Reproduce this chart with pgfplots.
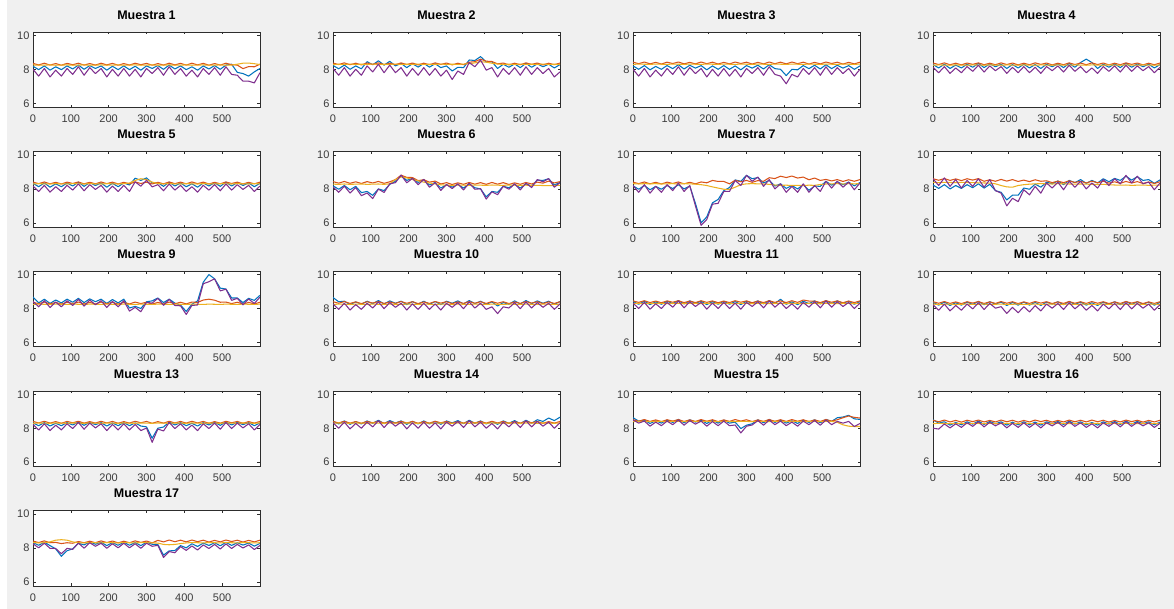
\documentclass[border=0pt]{standalone}
\usepackage{fontspec}
\setmainfont{Liberation Sans}
\usepackage{pgfplots}
\usepackage{pgfplotstable}
\pgfplotsset{compat=1.18}
\definecolor{mBlue}{RGB}{0,114,189}
\definecolor{mOrange}{RGB}{217,83,25}
\definecolor{mYellow}{RGB}{237,177,32}
\definecolor{mPurple}{RGB}{126,47,142}
\definecolor{figgray}{RGB}{240,240,240}
\definecolor{axgray}{RGB}{45,45,45}
\definecolor{labgray}{RGB}{60,60,60}
\pgfplotsset{sub/.style={width=227pt,height=75.5pt,scale only axis,anchor=south west,
 xmin=0,xmax=600,ymin=5.75,ymax=10.2,
 xtick={0,100,200,300,400,500}, ytick={6,8,10},
 tick align=inside, major tick length=2.5pt,
 tick style={color=axgray,line width=0.45pt},
 axis line style={axgray,line width=0.45pt},
 /pgf/number format/assume math mode=true,
 ticklabel style={font=\fontsize{11}{12}\selectfont,text=labgray},
 xticklabel style={yshift=-4pt},
 title style={font=\bfseries\fontsize{12.5}{13}\selectfont,at={(0.5,1)},anchor=base,yshift=6.7pt},
 axis background/.style={fill=white},
 every axis plot/.append style={line width=1.05pt,no markers,line join=round}}}
\newcommand{\subp}[4]{%
\begin{axis}[sub,at={(#1pt,#2pt)},title={#3}]
\addplot[mBlue] table[x index=0,y index=1]{#4};
\addplot[mOrange] table[x index=0,y index=2]{#4};
\addplot[mYellow] table[x index=0,y index=3]{#4};
\addplot[mPurple] table[x index=0,y index=4]{#4};
\end{axis}}
\pgfplotstableread{
0 8.18 8.35 8.26 8.0
15 7.98 8.26 8.24 7.6
30 8.2 8.36 8.25 8.05
45 7.95 8.25 8.26 7.55
60 8.15 8.34 8.24 7.95
75 7.98 8.24 8.25 7.6
90 8.2 8.35 8.26 8.05
105 8.02 8.27 8.24 7.7
120 8.25 8.36 8.25 8.15
135 8.0 8.25 8.26 7.65
150 8.22 8.34 8.24 8.1
165 8.05 8.25 8.25 7.75
180 8.2 8.36 8.26 8.05
195 7.95 8.26 8.24 7.55
210 8.18 8.35 8.25 8.0
225 7.98 8.24 8.26 7.6
240 8.2 8.34 8.24 8.05
255 7.98 8.25 8.25 7.6
270 8.18 8.36 8.26 8.0
285 7.95 8.27 8.24 7.55
300 8.2 8.35 8.25 8.05
315 8.05 8.24 8.26 7.75
330 8.22 8.34 8.24 8.1
345 8.0 8.25 8.25 7.65
360 8.25 8.36 8.26 8.15
375 8.02 8.26 8.24 7.7
390 8.2 8.35 8.25 8.05
405 7.98 8.25 8.26 7.6
420 8.15 8.36 8.24 7.95
435 7.95 8.26 8.25 7.55
450 8.2 8.35 8.26 8.05
465 8.02 8.24 8.24 7.7
480 8.22 8.34 8.25 8.1
495 8.0 8.25 8.26 7.65
510 8.25 8.36 8.24 8.15
525 8.3 8.27 8.25 7.7
540 7.82 8.25 8.3 7.65
555 7.75 8.04 8.36 7.3
570 7.6 8.16 8.37 7.3
585 7.85 8.15 8.33 7.2
600 8.05 8.3 8.28 7.8
}\tA
\pgfplotstableread{
0 8.23 8.37 8.28 8.05
15 8.03 8.28 8.3 7.65
30 8.25 8.38 8.29 8.1
45 8.0 8.27 8.31 7.6
60 8.2 8.36 8.29 8.0
75 8.03 8.26 8.3 7.65
90 8.45 8.37 8.29 8.2
105 8.27 8.29 8.31 7.85
120 8.5 8.38 8.29 8.3
135 8.25 8.27 8.3 7.8
150 8.47 8.36 8.29 8.25
165 8.2 8.27 8.31 7.8
180 8.35 8.38 8.29 8.1
195 8.1 8.28 8.3 7.6
210 8.33 8.37 8.29 8.05
225 8.13 8.26 8.31 7.65
240 8.35 8.36 8.29 8.1
255 8.13 8.27 8.3 7.65
270 8.33 8.38 8.29 8.05
285 8.1 8.29 8.31 7.6
300 8.2 8.37 8.29 7.95
315 7.9 8.26 8.3 7.4
330 8.12 8.36 8.29 7.9
345 8.1 8.27 8.31 7.7
360 8.55 8.42 8.33 8.4
375 8.52 8.45 8.38 8.15
390 8.75 8.6 8.45 8.55
405 8.43 8.48 8.42 7.95
420 8.45 8.46 8.36 8.1
435 8.05 8.32 8.31 7.55
450 8.3 8.37 8.29 8.05
465 8.12 8.26 8.3 7.7
480 8.32 8.36 8.29 8.1
495 8.1 8.27 8.31 7.65
510 8.35 8.38 8.29 8.15
525 8.12 8.29 8.3 7.7
540 8.32 8.37 8.29 8.1
555 8.15 8.26 8.31 7.75
570 8.3 8.36 8.29 8.05
585 8.08 8.27 8.3 7.55
600 8.28 8.37 8.29 7.85
}\tB
\pgfplotstableread{
0 8.2 8.42 8.29 8.0
15 8.0 8.33 8.31 7.6
30 8.22 8.43 8.3 8.05
45 7.97 8.32 8.29 7.55
60 8.17 8.41 8.31 7.95
75 8.0 8.31 8.3 7.6
90 8.22 8.42 8.29 8.05
105 8.04 8.34 8.31 7.7
120 8.27 8.43 8.3 8.15
135 8.02 8.32 8.29 7.65
150 8.24 8.41 8.31 8.1
165 8.07 8.32 8.3 7.75
180 8.22 8.43 8.29 8.05
195 7.97 8.33 8.31 7.55
210 8.2 8.42 8.3 8.0
225 8.0 8.31 8.29 7.6
240 8.22 8.41 8.31 8.05
255 8.0 8.32 8.3 7.6
270 8.2 8.43 8.29 8.0
285 7.97 8.34 8.31 7.55
300 8.22 8.42 8.3 8.05
315 8.07 8.31 8.29 7.75
330 8.24 8.41 8.31 8.1
345 8.02 8.32 8.3 7.65
360 8.27 8.43 8.29 8.15
375 8.04 8.33 8.31 7.7
390 8.0 8.42 8.3 7.6
405 7.63 8.32 8.29 7.15
420 8.0 8.43 8.31 7.7
435 7.97 8.33 8.3 7.55
450 8.22 8.42 8.29 8.05
465 8.04 8.31 8.31 7.7
480 8.24 8.41 8.3 8.1
495 8.02 8.32 8.29 7.65
510 8.27 8.43 8.31 8.15
525 8.04 8.34 8.3 7.7
540 8.24 8.42 8.29 8.1
555 8.07 8.31 8.31 7.75
570 8.22 8.41 8.3 8.05
585 8.0 8.32 8.29 7.6
600 8.2 8.42 8.31 8.0
}\tC
\pgfplotstableread{
0 8.28 8.37 8.24 8.12
15 8.08 8.28 8.26 7.8
30 8.3 8.38 8.25 8.16
45 8.05 8.27 8.24 7.76
60 8.25 8.36 8.26 8.08
75 8.08 8.26 8.25 7.8
90 8.3 8.37 8.24 8.16
105 8.12 8.29 8.26 7.88
120 8.35 8.38 8.25 8.24
135 8.1 8.27 8.24 7.84
150 8.32 8.36 8.26 8.2
165 8.15 8.27 8.25 7.92
180 8.3 8.38 8.24 8.16
195 8.05 8.28 8.26 7.76
210 8.28 8.37 8.25 8.12
225 8.08 8.26 8.24 7.8
240 8.3 8.36 8.26 8.16
255 8.08 8.27 8.25 7.8
270 8.28 8.38 8.24 8.12
285 8.05 8.29 8.26 7.76
300 8.3 8.37 8.25 8.16
315 8.15 8.26 8.24 7.92
330 8.32 8.36 8.26 8.2
345 8.1 8.27 8.25 7.84
360 8.35 8.38 8.24 8.24
375 8.12 8.28 8.26 7.88
390 8.4 8.37 8.25 8.16
405 8.6 8.27 8.24 7.8
420 8.4 8.38 8.26 8.08
435 8.05 8.28 8.25 7.76
450 8.3 8.37 8.24 8.16
465 8.12 8.26 8.26 7.88
480 8.32 8.36 8.25 8.2
495 8.1 8.27 8.24 7.84
510 8.35 8.38 8.26 8.24
525 8.12 8.29 8.25 7.88
540 8.32 8.37 8.24 8.2
555 8.15 8.26 8.26 7.92
570 8.3 8.36 8.25 8.16
585 8.08 8.27 8.24 7.8
600 8.28 8.37 8.26 8.12
}\tD
\pgfplotstableread{
0 8.33 8.4 8.29 8.17
15 8.13 8.31 8.31 7.85
30 8.35 8.41 8.3 8.21
45 8.1 8.3 8.29 7.81
60 8.3 8.39 8.31 8.13
75 8.13 8.29 8.3 7.85
90 8.35 8.4 8.29 8.21
105 8.17 8.32 8.31 7.93
120 8.4 8.41 8.3 8.29
135 8.15 8.3 8.29 7.89
150 8.37 8.39 8.31 8.25
165 8.2 8.3 8.3 7.97
180 8.35 8.41 8.29 8.21
195 8.1 8.31 8.31 7.81
210 8.33 8.4 8.3 8.17
225 8.13 8.29 8.29 7.85
240 8.35 8.39 8.31 8.21
255 8.23 8.3 8.35 7.85
270 8.63 8.41 8.5 8.42
285 8.5 8.32 8.6 8.16
300 8.65 8.4 8.55 8.51
315 8.35 8.29 8.4 8.12
330 8.37 8.39 8.32 8.25
345 8.15 8.3 8.29 7.89
360 8.4 8.41 8.31 8.29
375 8.17 8.31 8.3 7.93
390 8.35 8.4 8.29 8.21
405 8.13 8.3 8.31 7.85
420 8.3 8.41 8.3 8.13
435 8.1 8.31 8.29 7.81
450 8.35 8.4 8.31 8.21
465 8.17 8.29 8.3 7.93
480 8.37 8.39 8.29 8.25
495 8.15 8.3 8.31 7.89
510 8.4 8.41 8.3 8.29
525 8.17 8.32 8.29 7.93
540 8.37 8.4 8.31 8.25
555 8.2 8.29 8.3 7.97
570 8.35 8.39 8.29 8.21
585 8.13 8.3 8.31 7.85
600 8.33 8.4 8.3 8.17
}\tE
\pgfplotstableread{
0 8.18 8.43 8.28 8.12
15 7.98 8.34 8.27 7.8
30 8.2 8.44 8.29 8.16
45 7.95 8.33 8.27 7.76
60 8.15 8.42 8.28 8.08
75 7.78 8.32 8.29 7.6
90 7.85 8.43 8.27 7.76
105 7.62 8.35 8.28 7.43
120 8.0 8.44 8.29 7.99
135 7.9 8.33 8.27 7.79
150 8.27 8.42 8.3 8.3
165 8.45 8.55 8.55 8.37
180 8.8 8.81 8.7 8.81
195 8.5 8.68 8.65 8.36
210 8.63 8.67 8.55 8.62
225 8.38 8.49 8.48 8.25
240 8.55 8.54 8.4 8.56
255 8.23 8.4 8.35 8.1
270 8.38 8.46 8.3 8.37
285 8.05 8.29 8.24 7.91
300 8.25 8.37 8.22 8.26
315 8.1 8.26 8.21 8.02
330 8.27 8.36 8.23 8.3
345 8.05 8.27 8.22 7.94
360 8.3 8.38 8.21 8.34
375 8.07 8.28 8.23 7.98
390 8.0 8.37 8.22 8.01
405 7.53 8.27 8.21 7.4
420 7.85 8.38 8.23 7.83
435 7.8 8.28 8.22 7.66
450 8.15 8.37 8.21 8.16
465 8.07 8.26 8.23 7.98
480 8.27 8.36 8.22 8.3
495 8.05 8.27 8.21 7.94
510 8.3 8.38 8.22 8.34
525 8.17 8.29 8.2 8.08
540 8.52 8.4 8.21 8.55
555 8.5 8.34 8.2 8.42
570 8.6 8.46 8.19 8.61
585 8.23 8.35 8.2 8.1
600 8.38 8.43 8.21 8.37
}\tF
\pgfplotstableread{
0 8.18 8.4 8.31 8.2
15 7.98 8.31 8.29 7.8
30 8.2 8.41 8.31 8.25
45 7.95 8.3 8.3 7.75
60 8.15 8.39 8.31 8.15
75 7.98 8.29 8.29 7.8
90 8.2 8.4 8.3 8.25
105 8.02 8.32 8.31 7.9
120 8.25 8.41 8.29 8.35
135 8.0 8.3 8.31 7.85
150 8.17 8.39 8.3 8.2
165 7.15 8.3 8.28 7.0
180 6.0 8.41 8.25 5.85
195 6.35 8.36 8.2 6.2
210 7.18 8.5 8.12 7.1
225 7.38 8.44 8.05 7.15
240 7.9 8.44 7.98 7.85
255 8.08 8.3 7.97 7.85
270 8.53 8.51 8.1 8.5
285 8.45 8.42 8.25 8.2
300 8.8 8.5 8.3 8.8
315 8.6 8.39 8.31 8.45
330 8.67 8.49 8.3 8.7
345 8.35 8.45 8.29 8.15
360 8.5 8.66 8.27 8.55
375 8.17 8.61 8.23 8.0
390 8.3 8.75 8.21 8.3
405 8.03 8.67 8.22 7.8
420 8.2 8.76 8.2 8.15
435 8.0 8.64 8.21 7.8
450 8.25 8.7 8.2 8.3
465 7.92 8.54 8.22 7.8
480 8.17 8.64 8.21 8.2
495 8.15 8.5 8.26 7.85
510 8.45 8.56 8.29 8.45
525 8.22 8.47 8.3 8.05
540 8.42 8.55 8.31 8.45
555 8.25 8.44 8.29 8.1
570 8.4 8.54 8.31 8.4
585 8.18 8.45 8.3 7.95
600 8.38 8.55 8.31 8.35
}\tG
\pgfplotstableread{
0 8.23 8.6 8.39 8.6
15 8.03 8.51 8.37 8.2
30 8.25 8.61 8.39 8.65
45 8.0 8.5 8.38 8.15
60 8.2 8.59 8.37 8.55
75 8.03 8.49 8.39 8.05
90 8.25 8.6 8.38 8.5
105 8.07 8.52 8.37 8.15
120 8.3 8.61 8.36 8.6
135 8.05 8.45 8.35 8.1
150 8.27 8.54 8.34 8.55
165 7.9 8.45 8.3 7.9
180 7.8 8.56 8.2 7.75
195 7.35 8.46 8.12 7.0
210 7.63 8.55 8.1 7.45
225 7.63 8.44 8.2 7.25
240 8.05 8.52 8.25 7.95
255 7.98 8.43 8.28 7.65
270 8.28 8.54 8.3 8.15
285 8.1 8.45 8.31 7.75
300 8.4 8.48 8.3 8.35
315 8.3 8.37 8.29 8.05
330 8.47 8.46 8.31 8.4
345 8.25 8.37 8.3 7.95
360 8.5 8.48 8.29 8.45
375 8.37 8.38 8.28 8.1
390 8.55 8.45 8.29 8.45
405 8.33 8.35 8.28 8.0
420 8.5 8.46 8.27 8.35
435 8.35 8.36 8.26 8.05
450 8.6 8.45 8.27 8.55
465 8.42 8.34 8.25 8.2
480 8.62 8.42 8.23 8.6
495 8.5 8.33 8.22 8.3
510 8.75 8.44 8.23 8.8
525 8.52 8.35 8.21 8.35
540 8.72 8.43 8.22 8.75
555 8.5 8.32 8.23 8.3
570 8.55 8.41 8.21 8.4
585 8.33 8.32 8.22 7.95
600 8.53 8.42 8.23 8.35
}\tH
\pgfplotstableread{
0 8.68 8.37 8.24 8.42
15 8.33 8.28 8.26 8.1
30 8.55 8.38 8.25 8.46
45 8.3 8.27 8.24 8.06
60 8.5 8.36 8.26 8.38
75 8.33 8.26 8.25 8.1
90 8.55 8.37 8.24 8.46
105 8.37 8.29 8.26 8.18
120 8.6 8.38 8.25 8.54
135 8.35 8.27 8.24 8.14
150 8.57 8.36 8.26 8.5
165 8.4 8.27 8.25 8.22
180 8.55 8.38 8.24 8.46
195 8.3 8.28 8.26 8.06
210 8.53 8.37 8.25 8.42
225 8.33 8.26 8.24 8.1
240 8.55 8.36 8.26 8.46
255 8.03 8.27 8.25 7.85
270 8.13 8.38 8.24 8.07
285 8.0 8.29 8.26 7.81
300 8.4 8.37 8.25 8.36
315 8.45 8.26 8.24 8.32
330 8.62 8.36 8.26 8.6
345 8.35 8.27 8.25 8.19
360 8.55 8.38 8.24 8.54
375 8.32 8.28 8.26 8.18
390 8.2 8.37 8.25 8.16
405 7.83 8.27 8.24 7.65
420 8.25 8.38 8.26 8.18
435 8.45 8.36 8.25 8.21
450 9.55 8.5 8.24 9.46
465 10.0 8.55 8.26 9.58
480 9.75 8.49 8.25 9.75
495 9.2 8.37 8.24 9.04
510 9.15 8.38 8.26 9.14
525 8.62 8.29 8.25 8.48
540 8.62 8.37 8.24 8.6
555 8.35 8.26 8.26 8.22
570 8.6 8.36 8.25 8.56
585 8.48 8.27 8.24 8.3
600 8.78 8.37 8.26 8.67
}\tI
\pgfplotstableread{
0 8.65 8.4 8.24 8.27
15 8.4 8.31 8.26 7.95
30 8.43 8.41 8.25 8.31
45 8.23 8.3 8.24 7.91
60 8.39 8.39 8.26 8.23
75 8.25 8.29 8.25 7.95
90 8.43 8.4 8.24 8.31
105 8.29 8.32 8.26 8.03
120 8.47 8.41 8.25 8.39
135 8.27 8.3 8.24 7.99
150 8.45 8.39 8.26 8.35
165 8.31 8.3 8.25 8.07
180 8.43 8.41 8.24 8.31
195 8.23 8.31 8.26 7.91
210 8.41 8.4 8.25 8.27
225 8.25 8.29 8.24 7.95
240 8.43 8.39 8.26 8.31
255 8.25 8.3 8.25 7.95
270 8.41 8.41 8.24 8.27
285 8.23 8.32 8.26 7.91
300 8.43 8.4 8.25 8.31
315 8.31 8.29 8.24 8.07
330 8.45 8.39 8.26 8.35
345 8.27 8.3 8.25 7.99
360 8.47 8.41 8.24 8.39
375 8.29 8.31 8.26 8.03
390 8.43 8.4 8.25 8.31
405 8.25 8.3 8.24 7.95
420 8.39 8.41 8.26 8.1
435 8.15 8.31 8.25 7.7
450 8.35 8.4 8.24 8.1
465 8.25 8.29 8.26 8.03
480 8.45 8.39 8.25 8.35
495 8.27 8.3 8.24 7.99
510 8.47 8.41 8.26 8.39
525 8.29 8.32 8.25 8.03
540 8.45 8.4 8.24 8.35
555 8.31 8.29 8.26 8.07
570 8.43 8.39 8.25 8.31
585 8.25 8.3 8.24 7.95
600 8.41 8.4 8.26 8.27
}\tJ
\pgfplotstableread{
0 8.41 8.45 8.29 8.32
15 8.25 8.36 8.31 8.0
30 8.43 8.46 8.3 8.36
45 8.23 8.35 8.29 7.96
60 8.39 8.44 8.31 8.28
75 8.25 8.34 8.3 8.0
90 8.43 8.45 8.29 8.36
105 8.29 8.37 8.31 8.08
120 8.47 8.46 8.3 8.44
135 8.27 8.35 8.29 8.04
150 8.45 8.44 8.31 8.4
165 8.31 8.35 8.3 8.12
180 8.43 8.46 8.29 8.36
195 8.23 8.36 8.31 7.96
210 8.41 8.45 8.3 8.32
225 8.25 8.34 8.29 8.0
240 8.43 8.44 8.31 8.36
255 8.25 8.35 8.3 8.0
270 8.41 8.46 8.29 8.32
285 8.23 8.37 8.31 7.96
300 8.43 8.45 8.3 8.36
315 8.31 8.34 8.29 8.12
330 8.45 8.44 8.31 8.4
345 8.27 8.35 8.3 8.04
360 8.47 8.46 8.29 8.44
375 8.29 8.36 8.31 8.08
390 8.55 8.45 8.3 8.36
405 8.25 8.35 8.29 8.0
420 8.39 8.46 8.31 8.28
435 8.23 8.36 8.3 7.96
450 8.43 8.5 8.29 8.36
465 8.29 8.44 8.31 8.08
480 8.45 8.44 8.3 8.4
495 8.27 8.35 8.29 8.04
510 8.47 8.46 8.31 8.44
525 8.29 8.37 8.3 8.08
540 8.45 8.45 8.29 8.4
555 8.31 8.34 8.31 8.12
570 8.43 8.44 8.3 8.36
585 8.25 8.35 8.29 8.0
600 8.41 8.45 8.31 8.32
}\tK
\pgfplotstableread{
0 8.36 8.4 8.26 8.22
15 8.2 8.31 8.24 7.9
30 8.38 8.41 8.25 8.26
45 8.18 8.3 8.26 7.86
60 8.34 8.39 8.24 8.18
75 8.2 8.29 8.25 7.9
90 8.38 8.4 8.26 8.26
105 8.24 8.32 8.24 7.98
120 8.42 8.41 8.25 8.34
135 8.22 8.3 8.26 7.94
150 8.4 8.39 8.24 8.3
165 8.26 8.3 8.25 8.02
180 8.38 8.41 8.26 8.11
195 8.18 8.31 8.24 7.71
210 8.36 8.4 8.25 8.07
225 8.2 8.29 8.26 7.75
240 8.38 8.39 8.24 8.11
255 8.2 8.3 8.25 7.8
270 8.36 8.41 8.26 8.17
285 8.18 8.32 8.24 7.86
300 8.38 8.4 8.25 8.26
315 8.26 8.29 8.26 8.02
330 8.4 8.39 8.24 8.3
345 8.22 8.3 8.25 7.94
360 8.42 8.41 8.26 8.34
375 8.24 8.31 8.24 7.98
390 8.38 8.4 8.25 8.26
405 8.2 8.3 8.26 7.9
420 8.34 8.41 8.24 8.18
435 8.18 8.31 8.25 7.86
450 8.38 8.4 8.26 8.26
465 8.24 8.29 8.24 7.98
480 8.4 8.39 8.25 8.3
495 8.22 8.3 8.26 7.94
510 8.42 8.41 8.24 8.34
525 8.24 8.32 8.25 7.98
540 8.4 8.4 8.26 8.3
555 8.26 8.29 8.24 8.02
570 8.38 8.39 8.25 8.26
585 8.2 8.3 8.26 7.9
600 8.36 8.4 8.24 8.22
}\tL
\pgfplotstableread{
0 8.31 8.4 8.29 8.22
15 8.15 8.31 8.31 7.9
30 8.33 8.41 8.3 8.26
45 8.13 8.3 8.29 7.86
60 8.29 8.39 8.31 8.18
75 8.15 8.29 8.3 7.9
90 8.33 8.4 8.29 8.26
105 8.19 8.32 8.31 7.98
120 8.37 8.41 8.3 8.34
135 8.17 8.3 8.29 7.94
150 8.35 8.39 8.31 8.3
165 8.21 8.3 8.3 8.02
180 8.33 8.41 8.29 8.26
195 8.13 8.31 8.31 7.86
210 8.31 8.4 8.3 8.22
225 8.15 8.29 8.29 7.9
240 8.33 8.39 8.31 8.26
255 8.15 8.3 8.3 7.9
270 8.31 8.41 8.29 8.22
285 8.13 8.32 8.31 7.86
300 8.08 8.4 8.3 8.01
315 7.41 8.29 8.29 7.17
330 8.0 8.39 8.31 7.95
345 8.07 8.3 8.3 7.84
360 8.37 8.41 8.29 8.34
375 8.19 8.31 8.31 7.98
390 8.33 8.4 8.3 8.26
405 8.15 8.3 8.29 7.9
420 8.29 8.41 8.31 8.18
435 8.13 8.31 8.3 7.86
450 8.33 8.4 8.29 8.26
465 8.19 8.29 8.31 7.98
480 8.35 8.39 8.3 8.3
495 8.17 8.3 8.29 7.94
510 8.37 8.41 8.31 8.34
525 8.19 8.32 8.3 7.98
540 8.35 8.4 8.29 8.3
555 8.21 8.29 8.31 8.02
570 8.33 8.39 8.3 8.26
585 8.15 8.3 8.29 7.9
600 8.31 8.4 8.31 8.22
}\tM
\pgfplotstableread{
0 8.41 8.4 8.29 8.32
15 8.25 8.31 8.31 8.0
30 8.43 8.41 8.3 8.36
45 8.23 8.3 8.29 7.96
60 8.39 8.39 8.31 8.28
75 8.25 8.29 8.3 8.0
90 8.43 8.4 8.29 8.36
105 8.29 8.32 8.31 8.08
120 8.47 8.41 8.3 8.44
135 8.27 8.3 8.29 8.04
150 8.45 8.39 8.31 8.4
165 8.31 8.3 8.3 8.12
180 8.43 8.41 8.29 8.36
195 8.23 8.31 8.31 7.96
210 8.41 8.4 8.3 8.32
225 8.25 8.29 8.29 8.0
240 8.43 8.39 8.31 8.36
255 8.25 8.3 8.3 8.0
270 8.41 8.41 8.29 8.32
285 8.23 8.32 8.31 7.96
300 8.43 8.4 8.3 8.36
315 8.31 8.29 8.29 8.12
330 8.45 8.39 8.31 8.4
345 8.27 8.3 8.3 8.04
360 8.47 8.41 8.29 8.44
375 8.29 8.31 8.31 8.08
390 8.43 8.4 8.3 8.36
405 8.25 8.3 8.29 8.0
420 8.39 8.41 8.31 8.28
435 8.23 8.31 8.3 7.96
450 8.43 8.4 8.29 8.36
465 8.29 8.29 8.31 8.08
480 8.45 8.39 8.3 8.4
495 8.27 8.3 8.29 8.04
510 8.47 8.41 8.31 8.44
525 8.29 8.32 8.3 8.08
540 8.5 8.4 8.29 8.4
555 8.4 8.29 8.31 8.12
570 8.6 8.39 8.3 8.36
585 8.45 8.3 8.29 8.0
600 8.65 8.4 8.31 8.32
}\tN
\pgfplotstableread{
0 8.62 8.5 8.39 8.49
15 8.42 8.41 8.41 8.3
30 8.48 8.51 8.4 8.42
45 8.28 8.4 8.39 8.12
60 8.44 8.49 8.41 8.36
75 8.3 8.39 8.4 8.15
90 8.48 8.5 8.39 8.42
105 8.34 8.42 8.41 8.21
120 8.52 8.51 8.4 8.48
135 8.32 8.4 8.39 8.18
150 8.5 8.49 8.41 8.45
165 8.36 8.4 8.4 8.24
180 8.48 8.51 8.39 8.42
195 8.28 8.41 8.41 8.12
210 8.46 8.5 8.4 8.39
225 8.3 8.39 8.39 8.15
240 8.48 8.49 8.41 8.42
255 8.3 8.4 8.4 8.15
270 8.36 8.51 8.39 8.19
285 7.98 8.42 8.41 7.72
300 8.18 8.5 8.4 8.12
315 8.26 8.39 8.39 8.19
330 8.5 8.49 8.41 8.45
345 8.32 8.4 8.4 8.18
360 8.52 8.51 8.39 8.48
375 8.34 8.41 8.41 8.21
390 8.48 8.5 8.4 8.42
405 8.3 8.4 8.39 8.15
420 8.44 8.51 8.41 8.36
435 8.28 8.41 8.4 8.12
450 8.48 8.5 8.39 8.42
465 8.34 8.39 8.41 8.21
480 8.5 8.49 8.4 8.45
495 8.32 8.4 8.39 8.18
510 8.52 8.51 8.41 8.48
525 8.4 8.42 8.4 8.21
540 8.62 8.5 8.35 8.4
555 8.66 8.62 8.2 8.3
570 8.76 8.72 8.12 8.4
585 8.55 8.64 8.1 8.1
600 8.52 8.6 8.1 8.28
}\tO
\pgfplotstableread{
0 8.5 8.47 8.27 8.0
15 8.3 8.38 8.29 7.95
30 8.38 8.48 8.28 8.25
45 8.18 8.37 8.27 8.02
60 8.34 8.46 8.29 8.26
75 8.2 8.36 8.28 8.05
90 8.38 8.47 8.27 8.32
105 8.24 8.39 8.29 8.11
120 8.42 8.48 8.28 8.38
135 8.22 8.37 8.27 8.08
150 8.4 8.46 8.29 8.35
165 8.26 8.37 8.28 8.14
180 8.38 8.48 8.27 8.32
195 8.18 8.38 8.29 8.02
210 8.36 8.47 8.28 8.29
225 8.2 8.36 8.27 8.05
240 8.38 8.46 8.29 8.32
255 8.2 8.37 8.28 8.05
270 8.36 8.48 8.27 8.29
285 8.18 8.39 8.29 8.02
300 8.38 8.47 8.28 8.32
315 8.26 8.36 8.27 8.14
330 8.4 8.46 8.29 8.35
345 8.22 8.37 8.28 8.08
360 8.42 8.48 8.27 8.38
375 8.24 8.38 8.29 8.11
390 8.38 8.47 8.28 8.32
405 8.2 8.37 8.27 8.05
420 8.34 8.48 8.29 8.26
435 8.18 8.38 8.28 8.02
450 8.38 8.47 8.27 8.32
465 8.24 8.36 8.29 8.11
480 8.4 8.46 8.28 8.35
495 8.22 8.37 8.27 8.08
510 8.42 8.48 8.29 8.38
525 8.24 8.39 8.28 8.11
540 8.4 8.47 8.27 8.35
555 8.26 8.36 8.29 8.14
570 8.38 8.46 8.28 8.32
585 8.2 8.37 8.27 8.05
600 8.36 8.47 8.29 8.29
}\tP
\pgfplotstableread{
0 8.31 8.4 8.31 8.24
15 8.15 8.31 8.29 8.0
30 8.33 8.41 8.3 8.27
45 8.13 8.3 8.35 7.97
60 7.94 8.32 8.45 7.96
75 7.5 8.25 8.48 7.65
90 7.83 8.3 8.45 7.97
105 7.94 8.27 8.35 7.91
120 8.27 8.37 8.3 8.28
135 8.17 8.3 8.29 7.98
150 8.35 8.39 8.31 8.3
165 8.21 8.3 8.3 8.09
180 8.33 8.41 8.29 8.27
195 8.13 8.31 8.31 7.97
210 8.31 8.4 8.3 8.24
225 8.15 8.29 8.29 8.0
240 8.33 8.39 8.31 8.27
255 8.15 8.3 8.3 8.0
270 8.31 8.41 8.29 8.24
285 8.13 8.32 8.31 7.97
300 8.33 8.4 8.3 8.27
315 8.21 8.29 8.29 8.09
330 8.2 8.44 8.28 8.15
345 7.57 8.35 8.2 7.43
360 7.82 8.46 8.18 7.78
375 7.84 8.36 8.2 7.71
390 8.13 8.45 8.25 8.07
405 8.0 8.35 8.29 7.85
420 8.24 8.46 8.31 8.11
435 8.08 8.36 8.3 7.87
450 8.28 8.45 8.29 8.17
465 8.14 8.34 8.31 7.96
480 8.3 8.44 8.3 8.2
495 8.12 8.35 8.29 7.93
510 8.32 8.46 8.31 8.23
525 8.14 8.37 8.3 7.96
540 8.3 8.45 8.29 8.2
555 8.16 8.34 8.31 7.99
570 8.28 8.44 8.3 8.17
585 8.1 8.35 8.29 7.9
600 8.26 8.45 8.3 8.14
}\tQ
\begin{document}
\begin{tikzpicture}[x=1pt,y=1pt]
\fill[white] (0,0) rectangle (1174,609);
\fill[figgray] (7,0) rectangle (1174,609);
\subp{33}{501.5}{Muestra 1}{\tA}
\subp{333}{501.5}{Muestra 2}{\tB}
\subp{633}{501.5}{Muestra 3}{\tC}
\subp{933}{501.5}{Muestra 4}{\tD}
\subp{33}{381.9}{Muestra 5}{\tE}
\subp{333}{381.9}{Muestra 6}{\tF}
\subp{633}{381.9}{Muestra 7}{\tG}
\subp{933}{381.9}{Muestra 8}{\tH}
\subp{33}{262.3}{Muestra 9}{\tI}
\subp{333}{262.3}{Muestra 10}{\tJ}
\subp{633}{262.3}{Muestra 11}{\tK}
\subp{933}{262.3}{Muestra 12}{\tL}
\subp{33}{142.6}{Muestra 13}{\tM}
\subp{333}{142.6}{Muestra 14}{\tN}
\subp{633}{142.6}{Muestra 15}{\tO}
\subp{933}{142.6}{Muestra 16}{\tP}
\subp{33}{23}{Muestra 17}{\tQ}
\end{tikzpicture}
\end{document}
